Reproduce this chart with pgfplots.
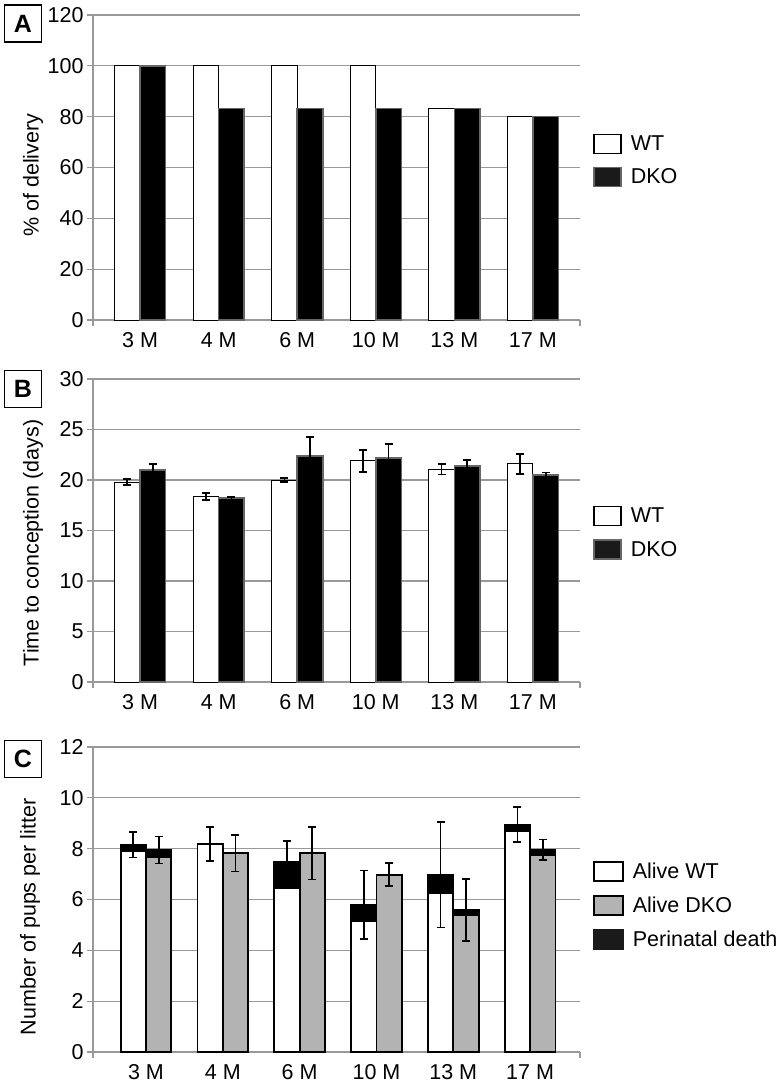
\documentclass[border=0pt]{standalone}
\usepackage{fontspec}
\setmainfont{Liberation Sans}
\usepackage{pgfplots}
\usepackage{pgfplotstable}
\pgfplotsset{compat=1.18}
\definecolor{gridgray}{HTML}{999999}
\definecolor{bargray}{HTML}{B3B3B3}
\definecolor{edgegray}{HTML}{666666}
\definecolor{dkofill}{HTML}{1A1A1A}

\pgfplotstableread{
x wt dko
0 100 100
1 100 83.3
2 100 83.3
3 100 83.3
4 83.3 83.3
5 80 80
}\tabA

\pgfplotstableread{
x wt wtE dko dkoE
0 19.8 0.3 21.0 0.6
1 18.4 0.35 18.2 0.15
2 20.0 0.2 22.4 1.85
3 21.9 1.1 22.2 1.4
4 21.05 0.5 21.4 0.55
5 21.6 1.0 20.5 0.25
}\tabB

\pgfplotstableread{
x wtA wtT wtE dkoA dkoT dkoE
0 7.91 8.15 0.50 7.65 7.95 0.53
1 8.18 8.18 0.68 7.82 7.82 0.72
2 6.46 7.47 0.84 7.82 7.82 1.03
3 5.16 5.79 1.35 6.98 6.98 0.45
4 6.24 6.97 2.07 5.38 5.59 1.23
5 8.70 8.95 0.70 7.74 7.96 0.40
}\tabC

\tikzset{
  plabel/.style={draw=black, line width=1.2pt, minimum size=37pt, inner sep=0pt,
    font=\fontsize{25}{25}\selectfont\bfseries},
}
\pgfplotsset{
  panel/.style={
    scale only axis, width=487pt,
    xmin=-0.6, xmax=5.6,
    xtick={-0.6,5.6}, xticklabels={},
    extra x ticks={0,1,2,3,4,5},
    extra x tick labels={3 M,4 M,6 M,10 M,13 M,17 M},
    extra x tick style={major tick length=0pt},
    xticklabel style={yshift=-9pt},
    axis x line*=bottom, axis y line*=left,
    axis line style={gridgray, line width=1.2pt, -},
    ymajorgrids, grid style={gridgray, line width=1.2pt},
    tick style={gridgray, line width=1.2pt},
    tick align=outside, major tick length=6pt,
    tick label style={font=\fontsize{21.5}{24}\selectfont},
    label style={font=\fontsize{21.5}{24}\selectfont},
    /pgf/number format/assume math mode=true,
    legend style={draw=none, fill=none, anchor=west, inner sep=0pt, row sep=13pt,
      column sep=7pt, font=\fontsize{21.5}{24}\selectfont},
    legend cell align=left,
    clip=false,
  },
  wtbar/.style={ybar, bar width=0.325, bar shift=-0.1625, fill=white, draw=black, line width=1pt, forget plot},
  dkobar/.style={ybar, bar width=0.325, bar shift=0.1625, fill=black, draw=edgegray, line width=1.5pt, forget plot},
  errs/.style={draw=none, mark=none, forget plot,
    error bars/.cd, y dir=both, y explicit,
    error bar style={draw=black, line width=1.8pt, solid},
    error mark options={rotate=90, mark size=4pt, draw=black, line width=1.8pt}},
}

\begin{document}
\begin{tikzpicture}
\useasboundingbox (0,0) rectangle (783pt,-1084pt);

% ---------- Panel A ----------
\begin{axis}[panel, at={(93pt,-320pt)}, anchor=south west, height=305pt,
  ymin=0, ymax=120, ytick={0,20,...,120},
  ylabel={\% of delivery},
  ylabel style={at={(axis description cs:-0.123,0.475)}, anchor=center},
  legend style={at={(1.027,0.523)}}]
\addplot[wtbar] table[x=x, y=wt]{\tabA};
\addplot[dkobar] table[x=x, y=dko]{\tabA};
\addlegendimage{legend image code/.code={\draw[fill=white,draw=black,line width=1.2pt] (0pt,-9.5pt) rectangle (27pt,9.5pt);}}
\addlegendentry{WT}
\addlegendimage{legend image code/.code={\draw[fill=dkofill,draw=edgegray,line width=1.5pt] (0pt,-9.5pt) rectangle (27pt,9.5pt);}}
\addlegendentry{DKO}
\node[plabel] at (axis description cs:-0.1437,0.972) {A};
\end{axis}

% ---------- Panel B ----------
\begin{axis}[panel, at={(93pt,-682pt)}, anchor=south west, height=303pt,
  ymin=0, ymax=30, ytick={0,5,...,30},
  ylabel={Time to conception (days)},
  ylabel style={at={(axis description cs:-0.123,0.459)}, anchor=center},
  legend style={at={(1.027,0.492)}}]
\addplot[wtbar] table[x=x, y=wt]{\tabB};
\addplot[dkobar] table[x=x, y=dko]{\tabB};
\addplot[errs] table[x expr=\thisrow{x}-0.1625, y=wt, y error=wtE]{\tabB};
\addplot[errs] table[x expr=\thisrow{x}+0.1625, y=dko, y error=dkoE]{\tabB};
\addlegendimage{legend image code/.code={\draw[fill=white,draw=black,line width=1.2pt] (0pt,-9.5pt) rectangle (27pt,9.5pt);}}
\addlegendentry{WT}
\addlegendimage{legend image code/.code={\draw[fill=dkofill,draw=edgegray,line width=1.5pt] (0pt,-9.5pt) rectangle (27pt,9.5pt);}}
\addlegendentry{DKO}
\node[plabel] at (axis description cs:-0.1437,0.967) {B};
\end{axis}

% ---------- Panel C ----------
\begin{axis}[panel, at={(93pt,-1052pt)}, anchor=south west, height=305pt,
  xmin=-0.69, xmax=5.65,
  xtick={-0.69,5.65},
  ymin=0, ymax=12, ytick={0,2,...,12},
  ylabel={Number of pups per litter},
  ylabel style={at={(axis description cs:-0.129,0.443)}, anchor=center},
  legend style={at={(1.027,0.48)}}]
\addplot[ybar, bar width=0.33, bar shift=-0.165, fill=black, draw=black, line width=1.8pt, forget plot] table[x=x, y=wtT]{\tabC};
\addplot[ybar, bar width=0.33, bar shift=-0.165, fill=white, draw=black, line width=1.8pt, forget plot] table[x=x, y=wtA]{\tabC};
\addplot[ybar, bar width=0.33, bar shift=0.165, fill=black, draw=black, line width=1.8pt, forget plot] table[x=x, y=dkoT]{\tabC};
\addplot[ybar, bar width=0.33, bar shift=0.165, fill=bargray, draw=black, line width=1.8pt, forget plot] table[x=x, y=dkoA]{\tabC};
\addplot[errs] table[x expr=\thisrow{x}-0.165, y=wtT, y error=wtE]{\tabC};
\addplot[errs] table[x expr=\thisrow{x}+0.165, y=dkoT, y error=dkoE]{\tabC};
\addlegendimage{legend image code/.code={\draw[fill=white,draw=black,line width=1.5pt] (0pt,-9.5pt) rectangle (29pt,9.5pt);}}
\addlegendentry{Alive WT}
\addlegendimage{legend image code/.code={\draw[fill=bargray,draw=black,line width=1.5pt] (0pt,-9.5pt) rectangle (29pt,9.5pt);}}
\addlegendentry{Alive DKO}
\addlegendimage{legend image code/.code={\draw[fill=dkofill,draw=dkofill,line width=1.5pt] (0pt,-9.5pt) rectangle (29pt,9.5pt);}}
\addlegendentry{Perinatal death}
\node[plabel] at (axis description cs:-0.1437,0.961) {C};
\end{axis}
\end{tikzpicture}
\end{document}
